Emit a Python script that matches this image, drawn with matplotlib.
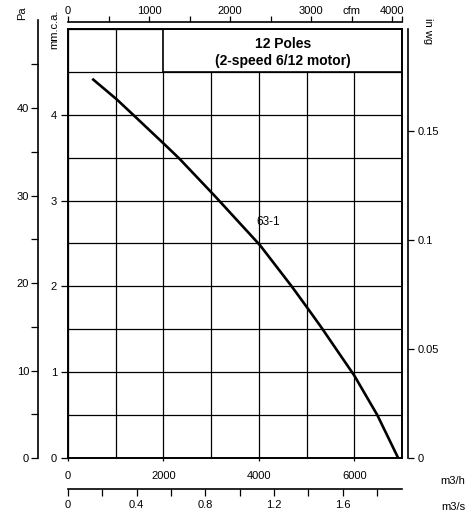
import matplotlib
matplotlib.use("Agg")
import matplotlib.pyplot as plt
from matplotlib.patches import Rectangle

plt.rcParams['font.family'] = ['Liberation Sans', 'DejaVu Sans']

# fan curve (flow in m3/h, pressure in mm water column)
flow_m3h = [530, 1021, 1404, 2033, 2333, 3100, 4024, 4689, 5003, 5300, 6001, 6483, 6911]
press_mm = [4.41, 4.18, 3.98, 3.65, 3.49, 3.04, 2.48, 2.00, 1.76, 1.53, 0.96, 0.50, 0.01]
curve_label = "63-1"
title_lines = ["12 Poles", "(2-speed 6/12 motor)"]

m3h_ticks = [0, 2000, 4000, 6000]
mm_ticks = [0, 1, 2, 3, 4]
pa_ticks = [0, 5, 10, 15, 20, 25, 30, 35, 40, 45]
pa_labels = ["0", "", "10", "", "20", "", "30", "", "40", ""]
inwg_ticks = [0, 0.05, 0.1, 0.15]
inwg_labels = ["0", "0.05", "0.1", "0.15"]
cfm_ticks = [0, 500, 1000, 1500, 2000, 2500, 3000, 3500, 4000]
cfm_labels = ["0", "", "1000", "", "2000", "", "3000", "cfm", "4000"]
m3s_ticks = [0, 0.2, 0.4, 0.6, 0.8, 1.0, 1.2, 1.4, 1.6, 1.8]
m3s_labels = ["0", "", "0.4", "", "0.8", "", "1.2", "", "1.6", ""]

X_MAX = 7000.0   # m3/h
Y_MAX = 5.0      # mm c.a.
PA_PER_MM = 9.80665
MM_PER_INWG = 25.4
M3H_PER_CFM = 1.69901

W, H = 470, 515
fig = plt.figure(figsize=(W / 100, H / 100), dpi=100)


def px_axes(l, t, r, b):
    return fig.add_axes([l / W, 1 - b / H, (r - l) / W, (b - t) / H])


def strip(ax):
    ax.set_facecolor('none')
    for s in ax.spines.values():
        s.set_visible(False)
    ax.set_xticks([])
    ax.set_yticks([])


FS = 8
L, T, R, B = 68, 29, 402, 458

# main chart
ax = px_axes(L, T, R, B)
ax.set_xlim(0, X_MAX)
ax.set_ylim(0, Y_MAX)
ax.set_xticks(m3h_ticks)
ax.set_xticks(range(0, 7001, 1000), minor=True)
ax.set_yticks(mm_ticks)
ax.set_yticks([i * 0.5 for i in range(11)], minor=True)
ax.set_axisbelow(True)
ax.grid(True, which='both', color='black', lw=0.9)
ax.tick_params(which='minor', length=0)
ax.tick_params(axis='x', which='major', direction='out', length=2.5, width=0.9,
               pad=7, labelsize=FS)
ax.tick_params(axis='y', which='major', direction='out', length=5, width=0.9,
               pad=3, labelsize=FS)
for s in ax.spines.values():
    s.set_linewidth(1.4)

ax.add_patch(Rectangle((2000, 4.5), 5000, 0.5, facecolor='white',
                       edgecolor='black', lw=1.2, zorder=1))
ax.text(4500, 4.83, title_lines[0], ha='center', va='center',
        fontsize=10, fontweight='bold', zorder=3)
ax.text(4500, 4.63, title_lines[1], ha='center', va='center',
        fontsize=10, fontweight='bold', zorder=3)

ax.plot(flow_m3h, press_mm, color='black', lw=1.9, zorder=2)
ax.text(4190, 2.75, curve_label, ha='center', va='center', fontsize=FS + 0.5)

# Pa axis on the far left
pa_top = 20
ax_pa = px_axes(38, pa_top, 39, B)
strip(ax_pa)
ax_pa.spines['left'].set_visible(True)
ax_pa.spines['left'].set_linewidth(1.2)
ax_pa.set_ylim(0, (B - pa_top) / (B - T) * Y_MAX * PA_PER_MM)
ax_pa.set_yticks(pa_ticks)
ax_pa.set_yticklabels(pa_labels)
ax_pa.tick_params(axis='y', direction='out', length=5, width=0.9, pad=1.5, labelsize=FS)

# in wg axis on the right
ax_wg = px_axes(407, T, 408, B)
strip(ax_wg)
ax_wg.spines['right'].set_visible(True)
ax_wg.spines['right'].set_linewidth(1.2)
ax_wg.set_ylim(0, Y_MAX / MM_PER_INWG)
ax_wg.yaxis.tick_right()
ax_wg.set_yticks(inwg_ticks)
ax_wg.set_yticklabels(inwg_labels)
ax_wg.tick_params(axis='y', direction='out', length=4, width=0.9, pad=3, labelsize=FS)

# cfm axis on top
ax_cfm = px_axes(L, 22, R, 23)
strip(ax_cfm)
ax_cfm.spines['top'].set_visible(True)
ax_cfm.spines['top'].set_linewidth(1.2)
ax_cfm.set_xlim(0, X_MAX / M3H_PER_CFM)
ax_cfm.xaxis.tick_top()
ax_cfm.set_xticks(cfm_ticks + [X_MAX / M3H_PER_CFM])
ax_cfm.set_xticklabels(cfm_labels + [""])
ax_cfm.tick_params(axis='x', direction='out', length=4, width=0.9, pad=0.5, labelsize=FS)

# m3/s axis at the bottom
ax_s = px_axes(L, 488, R, 489)
strip(ax_s)
ax_s.spines['bottom'].set_visible(True)
ax_s.spines['bottom'].set_linewidth(1.2)
ax_s.set_xlim(0, X_MAX / 3600)
ax_s.set_xticks(m3s_ticks)
ax_s.set_xticklabels(m3s_labels)
ax_s.tick_params(axis='x', direction='out', length=5, width=0.9, pad=3, labelsize=FS)

# unit labels
fig.text(22 / W, 1 - 13 / H, "Pa", rotation=90, ha='center', va='center', fontsize=FS)
fig.text(54 / W, 1 - 29 / H, "mm.c.a.", rotation=90, ha='center', va='center', fontsize=FS)
fig.text(428 / W, 1 - 31 / H, "in wg", rotation=270, ha='center', va='center', fontsize=FS)
fig.text(453 / W, 1 - 481 / H, "m3/h", ha='center', va='center', fontsize=FS)
fig.text(453 / W, 1 - 507 / H, "m3/s", ha='center', va='center', fontsize=FS)

fig.savefig("out.png", dpi=100, facecolor='white')
